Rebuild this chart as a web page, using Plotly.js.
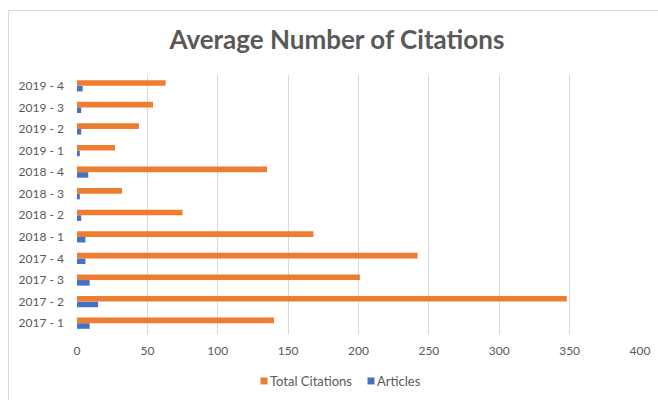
<!DOCTYPE html>
<html>
<head>
<meta charset="utf-8">
<script src="https://cdn.plot.ly/plotly-3.0.1.min.js"></script>
<style>
html,body{margin:0;padding:0;background:#fff;overflow:hidden;}
#chart{width:658px;height:400px;position:absolute;left:0;top:0;}
#frame{position:absolute;left:8px;top:10px;width:700px;height:420px;border:1px solid #d9d9d9;pointer-events:none;}
</style>
</head>
<body>
<div id="chart"></div>
<div id="frame"></div>
<script>
const categories = ["2017 - 1","2017 - 2","2017 - 3","2017 - 4","2018 - 1","2018 - 2","2018 - 3","2018 - 4","2019 - 1","2019 - 2","2019 - 3","2019 - 4"];
const totalCitations = [140, 348, 201, 242, 168, 75, 32, 135, 27, 44, 54, 63];
const articles = [9, 15, 9, 6, 6, 3, 2, 8, 2, 3, 3, 4];
const xTicks = [0, 50, 100, 150, 200, 250, 300, 350, 400];

const font = "Lato, 'Open Sans', sans-serif";
const traces = [
  {type:'bar', orientation:'h', name:'Articles', y:categories, x:articles,
   marker:{color:'#4472C4'}, hoverinfo:'x+y'},
  {type:'bar', orientation:'h', name:'Total Citations', y:categories, x:totalCitations,
   marker:{color:'#ED7D31'}, hoverinfo:'x+y'}
];
const layout = {
  width:658, height:400,
  margin:{l:77, r:18, t:75, b:66, pad:0},
  paper_bgcolor:'rgba(0,0,0,0)', plot_bgcolor:'rgba(0,0,0,0)',
  font:{family:font, size:12, color:'#595959'},
  title:{text:'<b>Average Number of Citations</b>', x:0.512, xref:'container', xanchor:'center',
         y:360/400, yref:'container', yanchor:'middle',
         font:{family:font, size:26, color:'#595959'}},
  barmode:'group', bargap:0.48, bargroupgap:0,
  xaxis:{range:[0,400], tickvals:xTicks, ticktext:xTicks.map(String), showgrid:true, gridcolor:'#d9d9d9', gridwidth:1,
         zeroline:false, showline:false, ticks:'', ticklabelstandoff:8, fixedrange:true,
         tickfont:{family:font, size:12, color:'#595959'}},
  yaxis:{type:'category', categoryarray:categories, showgrid:false, zeroline:false, showline:false,
         ticks:'', ticklabelstandoff:12, fixedrange:true,
         tickfont:{family:font, size:12, color:'#595959'}},
  legend:{orientation:'h', traceorder:'reversed', x:0.512, xref:'container', xanchor:'center',
          y:19/400, yref:'container', yanchor:'middle', font:{family:font, size:13, color:'#595959'},
          itemwidth:30},
  showlegend:true
};
Plotly.newPlot('chart', traces, layout, {displayModeBar:false, staticPlot:true}).then(function(gd){
  try {
    // Compact legend: small square markers right next to their labels, like the original
    const legend = gd.querySelector('g.legend');
    const m = /translate\(\s*([-\d.]+)[ ,]+([-\d.]+)\s*\)/.exec(legend.getAttribute('transform') || '');
    const lx = m ? parseFloat(m[1]) : 0;
    const items = Array.from(legend.querySelectorAll('g.traces'));
    const centers = [264, 371]; // absolute x of each legend square's centre
    items.forEach(function(it, i){
      const tm = /translate\(\s*([-\d.]+)[ ,]+([-\d.]+)\s*\)/.exec(it.getAttribute('transform') || '');
      const ty = tm ? parseFloat(tm[2]) : 0;
      const p = it.querySelector('.legendpoints path');
      let sx = 20;
      if (p) {
        const pm = /translate\(\s*([-\d.]+)/.exec(p.getAttribute('transform') || '');
        if (pm) sx = parseFloat(pm[1]);
        p.setAttribute('d', 'M3.5,3.5H-3.5V-3.5H3.5Z');
      }
      it.setAttribute('transform', 'translate(' + (centers[i] - lx - sx) + ',' + ty + ')');
      const t = it.querySelector('text.legendtext');
      if (t) t.setAttribute('x', sx + 6);
      const bg = it.querySelector('rect.legendtoggle');
      if (bg) bg.setAttribute('x', sx - 5);
    });
  } catch(e) {}
});
</script>
</body>
</html>
